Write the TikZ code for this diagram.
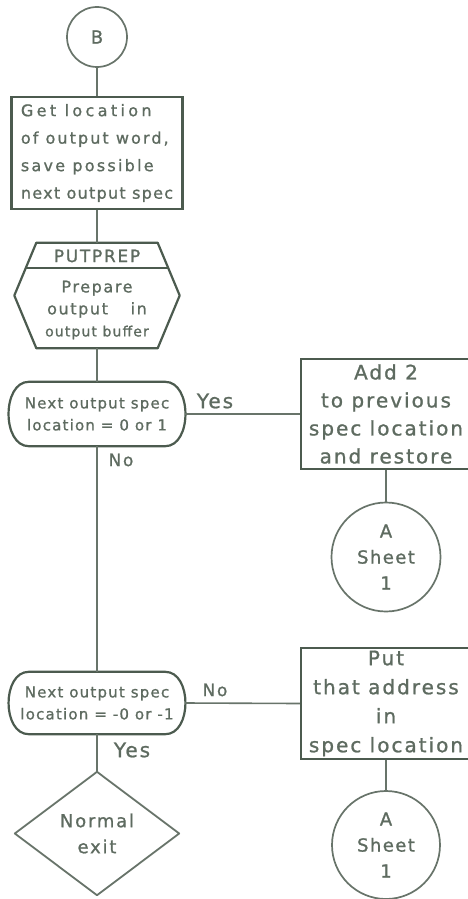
\documentclass[tikz,border=0pt]{standalone}
\usepackage{fontspec}
\setmainfont{DejaVu Sans}
% hand-lettered look: a plain sans, slightly emboldened, with wide letter spacing
\newfontfamily\hand[LetterSpace=10,FakeBold=1]{DejaVu Sans}
\newfontfamily\handtight[LetterSpace=8,FakeBold=1]{DejaVu Sans}
\newcommand\hw[2]{\hand\fontsize{#1}{#2}\selectfont}
\newcommand\hwt[2]{\handtight\fontsize{#1}{#2}\selectfont}
% one line of lettering with its own spacing
\newcommand\spaced[2]{{\addfontfeature{LetterSpace=#1}#2}}

\definecolor{frame}{HTML}{4C5B4F}
\definecolor{wire}{HTML}{68746A}
\definecolor{script}{HTML}{5E6B60}

\tikzset{
  lettering/.style={text=script, inner sep=0pt},
  procbox/.style={rectangle, draw=frame, line width=2.4pt, inner sep=0pt, text=script, align=center},
  connector/.style={circle, draw=wire, line width=1.7pt, inner sep=0pt, text=script, align=center},
  frameonly/.style={rectangle, draw=none, inner sep=0pt, text=script, align=center},
  outline/.style={draw=frame, line width=2.2pt, line join=round},
  wireline/.style={draw=wire, line width=1.6pt},
}

\begin{document}
\begin{tikzpicture}[x=1pt, y=-1pt]
\useasboundingbox (0,0) rectangle (468,899);
\clip (0,0) rectangle (468,899);
\fill[white] (0,0) rectangle (468,899);

% ---- main column ----
\node[connector, minimum size=60pt, font=\hw{18}{20}] (B) at (97,37) {B};

\node[procbox, align=left, minimum width=171pt, minimum height=112pt, font=\hwt{16}{27.5}]
  (locate) at (97,153) {\spaced{21}{Get location}\\\spaced{13}{of output word,}\\
  \spaced{14}{save possible}\\\spaced{8}{next output spec}};

% PUTPREP hexagon: invisible frame, outline drawn from its anchors
\node[frameonly, minimum width=165pt, minimum height=105pt] (prep) at (97,295.5) {};
\draw[outline] ([xshift=22pt]prep.north west) -- ([xshift=-22pt]prep.north east)
  -- (prep.east) -- ([xshift=-22pt]prep.south east) -- ([xshift=22pt]prep.south west)
  -- (prep.west) -- cycle;
\draw[outline] ([xshift=11.5pt,yshift=27.5pt]prep.west) -- ([xshift=-11.5pt,yshift=27.5pt]prep.east);
\node[lettering, font=\hw{17}{20}] (prephead) at (97,256) {PUTPREP};
\node[lettering, align=center, font=\hw{16}{22}] (prepbody) at (97,310)
  {Prepare\\output\quad\ in\\{\hwt{14}{22}output buffer}};

% first test
\node[frameonly, minimum width=176pt, minimum height=64pt, font=\hwt{15}{22}]
  (spec1) at (97,414) {Next output spec\\location = 0 or 1};
\draw[outline] ([xshift=20pt]spec1.north west) -- ([xshift=-20pt]spec1.north east)
  .. controls ([xshift=7pt]spec1.north east) and ([xshift=7pt]spec1.south east) .. ([xshift=-20pt]spec1.south east)
  -- ([xshift=20pt]spec1.south west)
  .. controls ([xshift=-7pt]spec1.south west) and ([xshift=-7pt]spec1.north west) .. ([xshift=20pt]spec1.north west)
  -- cycle;

% second test
\node[frameonly, minimum width=176pt, minimum height=62pt, font=\hwt{15}{22}]
  (spec2) at (97,703) {Next output spec\\location = -0 or -1};
\draw[outline] ([xshift=20pt]spec2.north west) -- ([xshift=-20pt]spec2.north east)
  .. controls ([xshift=7pt]spec2.north east) and ([xshift=7pt]spec2.south east) .. ([xshift=-20pt]spec2.south east)
  -- ([xshift=20pt]spec2.south west)
  .. controls ([xshift=-7pt]spec2.south west) and ([xshift=-7pt]spec2.north west) .. ([xshift=20pt]spec2.north west)
  -- cycle;

% exit diamond
\node[frameonly, minimum width=164pt, minimum height=123pt, font=\hw{18}{26}]
  (normalexit) at (97,833.5) {Normal\\exit};
\draw[outline, line width=1.8pt, draw=wire] (normalexit.north) -- (normalexit.east)
  -- (normalexit.south) -- (normalexit.west) -- cycle;

% ---- right column ----
\node[procbox, minimum width=170pt, minimum height=110pt, font=\hw{20}{28}]
  (addtwo) at (386,414) {Add 2\\to previous\\spec location\\and restore};
\node[connector, minimum size=109pt, font=\hwt{18}{26}] (sheetA) at (386,557) {A\\Sheet\\1};

\node[procbox, minimum width=170pt, minimum height=111pt, font=\hw{20}{29}]
  (putaddr) at (386,703.5) {Put\\that address\\in\\spec location};
\node[connector, minimum size=108pt, font=\hwt{18}{26}] (sheetB) at (386,845) {A\\Sheet\\1};

% ---- connectors ----
\draw[wireline] (B.south) -- (locate.north);
\draw[wireline] (locate.south) -- (prep.north);
\draw[wireline] (prep.south) -- (spec1.north);
\draw[wireline] (spec1.east) -- (addtwo.west);
\draw[wireline] (addtwo.south) -- (sheetA.north);
\draw[wireline] (spec1.south) -- (spec2.north);
\draw[wireline] (spec2.east) -- (putaddr.west);
\draw[wireline] (putaddr.south) -- (sheetB.north);
\draw[wireline] (spec2.south) -- (normalexit.north);

% ---- branch labels ----
\node[lettering, font=\hw{20}{22}] (yesA) at (215,401) {Yes};
\node[lettering, font=\hw{17}{20}] (noA) at (121,460) {No};
\node[lettering, font=\hw{17}{20}] (noB) at (215,690) {No};
\node[lettering, font=\hw{20}{22}] (yesB) at (132,750) {Yes};
\end{tikzpicture}
\end{document}
